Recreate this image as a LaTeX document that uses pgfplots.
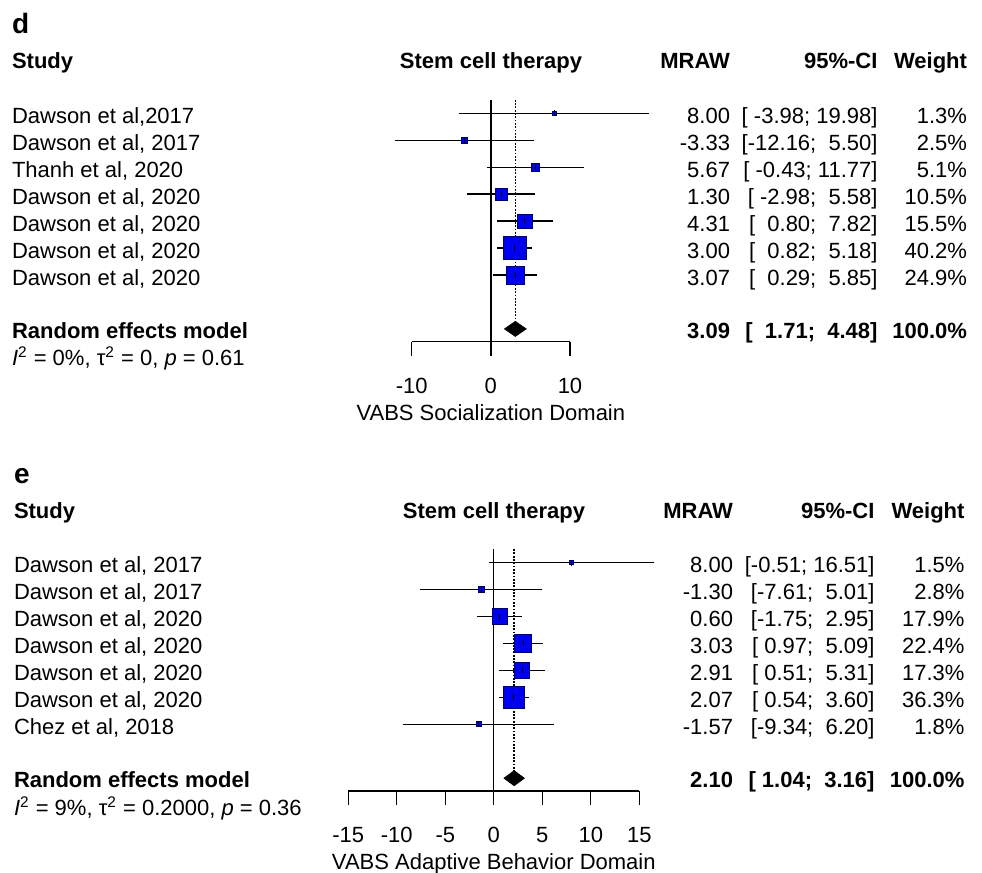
\documentclass[border=0pt]{standalone}
\usepackage{pgfplots}
\usepackage{pgfplotstable}
\pgfplotsset{compat=1.18}
\usepackage{fontspec}
\setmainfont{Liberation Sans}
\definecolor{sqfill}{RGB}{0,0,240}
\definecolor{sqdraw}{RGB}{0,0,110}

\pgfplotstableread{
row est lo hi w
-1 8.00 -3.98 19.98 1.3
-2 -3.33 -12.16 5.50 2.5
-3 5.67 -0.43 11.77 5.1
-4 1.30 -2.98 5.58 10.5
-5 4.31 0.80 7.82 15.5
-6 3.00 0.82 5.18 40.2
-7 3.07 0.29 5.85 24.9
}\tabd
\pgfplotstableread{
row est lo hi w
-1 8.00 -0.51 16.51 1.5
-2 -1.30 -7.61 5.01 2.8
-3 0.60 -1.75 2.95 17.9
-4 3.03 0.97 5.09 22.4
-5 2.91 0.51 5.31 17.3
-6 2.07 0.54 3.60 36.3
-7 -1.57 -9.34 6.20 1.8
}\tabe

\newcommand{\fs}{\fontsize{11pt}{13pt}\selectfont}
\pgfplotsset{forest/.style={
  scale only axis, clip=false, anchor=south west,
  ymin=-9.475, ymax=-0.5, height=120.94pt,
  axis x line*=bottom, axis y line=none,
  x axis line style={-, line width=0.7pt, black},
  tick align=outside, major tick length=7pt,
  xtick pos=bottom, ytick=\empty,
  every tick/.style={black, line width=0.7pt},
  tick label style={font=\fs},
  xticklabel style={anchor=base, yshift=-18.8pt},
  xlabel style={font=\fs, at={(axis description cs:0.5,0)}, anchor=base, yshift=-39.3pt},
}}
\newcommand{\forestdata}[1]{%
  \addplot[only marks, scatter, mark=square*,
    scatter/use mapped color={draw=sqdraw, fill=sqfill},
    visualization depends on={0.907*sqrt(\thisrow{w}) \as \ms},
    scatter/@pre marker code/.append style={/tikz/mark size=\ms, /tikz/line width=0.4pt}]
    table[x=est, y=row] {#1};
  \addplot[draw=none, no markers,
    error bars/.cd, x dir=both, x explicit, error mark=none,
    error bar style={draw=black, solid, line width=0.7pt}]
    table[x=est, y=row, x error plus expr=\thisrow{hi}-\thisrow{est},
      x error minus expr=\thisrow{est}-\thisrow{lo}] {#1};
  \addplot[only marks, mark=|, mark size=1.5pt, mark options={line width=0.5pt, draw=black}]
    table[x=est, y=row] {#1};
}

\begin{document}
\fs
\begin{tikzpicture}
\useasboundingbox (0,0) rectangle (491pt,-436.5pt);

% ---------- panel d ----------
\begin{axis}[forest, at={(205.85pt,-170.85pt)}, width=79.15pt,
  xmin=-10, xmax=10, xtick={-10,0,10}, xticklabels={-10,0,10},
  xlabel={VABS Socialization Domain}]
  \addplot[black, line width=0.7pt] coordinates {(0,-0.5) (0,-9.475)};
  \addplot[black, line width=0.7pt, dash pattern=on 0.9pt off 0.75pt] coordinates {(3.09,-0.5) (3.09,-8.72)};
  \forestdata{\tabd}
  \addplot[fill=black, draw=black, line width=0.3pt] coordinates {(1.71,-9) (3.09,-8.72) (4.48,-9) (3.09,-9.28) (1.71,-9)};
\end{axis}

% ---------- panel e ----------
\begin{axis}[forest, at={(174.15pt,-395.5pt)}, width=145.5pt,
  xmin=-15, xmax=15, xtick={-15,-10,-5,0,5,10,15}, xticklabels={-15,-10,-5,0,5,10,15},
  xlabel={VABS Adaptive Behavior Domain}]
  \addplot[black, line width=0.7pt] coordinates {(0,-0.5) (0,-9.475)};
  \addplot[black, line width=0.7pt, dash pattern=on 0.9pt off 0.75pt] coordinates {(2.10,-0.5) (2.10,-8.72)};
  \forestdata{\tabe}
  \addplot[fill=black, draw=black, line width=0.3pt] coordinates {(1.04,-9) (2.10,-8.72) (3.16,-9) (2.10,-9.28) (1.04,-9)};
\end{axis}

\begin{scope}[x=0.5pt, y=-0.5pt, every node/.style={inner sep=0pt, outer sep=0pt, font=\fs}]
% panel d text
\node[anchor=base west, font=\fontsize{14pt}{16pt}\selectfont\bfseries] at (12,33.3) {d};
\node[anchor=base west, font=\fs\bfseries] at (12,68.5) {Study};
\node[anchor=base, font=\fs\bfseries] at (491,68.5) {Stem cell therapy};
\node[anchor=base east, font=\fs\bfseries] at (730,68.5) {MRAW};
\node[anchor=base east, font=\fs\bfseries] at (877.5,68.5) {95\%-CI};
\node[anchor=base east, font=\fs\bfseries] at (967,68.5) {Weight};

\node[anchor=base west] at (12,123.3) {Dawson et al,2017};
\node[anchor=base west] at (12,150.25) {Dawson et al, 2017};
\node[anchor=base west] at (12,177.2) {Thanh et al, 2020};
\node[anchor=base west] at (12,204.15) {Dawson et al, 2020};
\node[anchor=base west] at (12,231.1) {Dawson et al, 2020};
\node[anchor=base west] at (12,258.05) {Dawson et al, 2020};
\node[anchor=base west] at (12,285.0) {Dawson et al, 2020};

\node[anchor=base east] at (730,123.3) {8.00};
\node[anchor=base east] at (730,150.25) {-3.33};
\node[anchor=base east] at (730,177.2) {5.67};
\node[anchor=base east] at (730,204.15) {1.30};
\node[anchor=base east] at (730,231.1) {4.31};
\node[anchor=base east] at (730,258.05) {3.00};
\node[anchor=base east] at (730,285.0) {3.07};

\node[anchor=base east] at (877.5,123.3) {[~-3.98; 19.98]};
\node[anchor=base east] at (877.5,150.25) {[-12.16;~~5.50]};
\node[anchor=base east] at (877.5,177.2) {[~-0.43; 11.77]};
\node[anchor=base east] at (877.5,204.15) {[~-2.98;~~5.58]};
\node[anchor=base east] at (877.5,231.1) {[~~0.80;~~7.82]};
\node[anchor=base east] at (877.5,258.05) {[~~0.82;~~5.18]};
\node[anchor=base east] at (877.5,285.0) {[~~0.29;~~5.85]};

\node[anchor=base east] at (967,123.3) {1.3\%};
\node[anchor=base east] at (967,150.25) {2.5\%};
\node[anchor=base east] at (967,177.2) {5.1\%};
\node[anchor=base east] at (967,204.15) {10.5\%};
\node[anchor=base east] at (967,231.1) {15.5\%};
\node[anchor=base east] at (967,258.05) {40.2\%};
\node[anchor=base east] at (967,285.0) {24.9\%};

\node[anchor=base west, font=\fs\bfseries] at (12,338.2) {Random effects model};
\node[anchor=base east, font=\fs\bfseries] at (730,338.2) {3.09};
\node[anchor=base east, font=\fs\bfseries] at (877.5,338.2) {[~~1.71;~~4.48]};
\node[anchor=base east, font=\fs\bfseries] at (967,338.2) {100.0\%};
\node[anchor=base west] at (12,365.7) {\textit{I}\textsuperscript{2} = 0\%, τ\textsuperscript{2} = 0, \textit{p} = 0.61};

% panel e text
\node[anchor=base west, font=\fontsize{14pt}{16pt}\selectfont\bfseries] at (14,483.3) {e};
\node[anchor=base west, font=\fs\bfseries] at (14,518.3) {Study};
\node[anchor=base, font=\fs\bfseries] at (494,518.3) {Stem cell therapy};
\node[anchor=base east, font=\fs\bfseries] at (733,518.3) {MRAW};
\node[anchor=base east, font=\fs\bfseries] at (874.5,518.3) {95\%-CI};
\node[anchor=base east, font=\fs\bfseries] at (964.5,518.3) {Weight};

\node[anchor=base west] at (14,572.7) {Dawson et al, 2017};
\node[anchor=base west] at (14,599.65) {Dawson et al, 2017};
\node[anchor=base west] at (14,626.6) {Dawson et al, 2020};
\node[anchor=base west] at (14,653.55) {Dawson et al, 2020};
\node[anchor=base west] at (14,680.5) {Dawson et al, 2020};
\node[anchor=base west] at (14,707.45) {Dawson et al, 2020};
\node[anchor=base west] at (14,734.4) {Chez et al, 2018};

\node[anchor=base east] at (733,572.7) {8.00};
\node[anchor=base east] at (733,599.65) {-1.30};
\node[anchor=base east] at (733,626.6) {0.60};
\node[anchor=base east] at (733,653.55) {3.03};
\node[anchor=base east] at (733,680.5) {2.91};
\node[anchor=base east] at (733,707.45) {2.07};
\node[anchor=base east] at (733,734.4) {-1.57};

\node[anchor=base east] at (874.5,572.7) {[-0.51; 16.51]};
\node[anchor=base east] at (874.5,599.65) {[-7.61;~~5.01]};
\node[anchor=base east] at (874.5,626.6) {[-1.75;~~2.95]};
\node[anchor=base east] at (874.5,653.55) {[~0.97;~~5.09]};
\node[anchor=base east] at (874.5,680.5) {[~0.51;~~5.31]};
\node[anchor=base east] at (874.5,707.45) {[~0.54;~~3.60]};
\node[anchor=base east] at (874.5,734.4) {[-9.34;~~6.20]};

\node[anchor=base east] at (964.5,572.7) {1.5\%};
\node[anchor=base east] at (964.5,599.65) {2.8\%};
\node[anchor=base east] at (964.5,626.6) {17.9\%};
\node[anchor=base east] at (964.5,653.55) {22.4\%};
\node[anchor=base east] at (964.5,680.5) {17.3\%};
\node[anchor=base east] at (964.5,707.45) {36.3\%};
\node[anchor=base east] at (964.5,734.4) {1.8\%};

\node[anchor=base west, font=\fs\bfseries] at (14,787.5) {Random effects model};
\node[anchor=base east, font=\fs\bfseries] at (733,787.5) {2.10};
\node[anchor=base east, font=\fs\bfseries] at (874.5,787.5) {[~1.04;~~3.16]};
\node[anchor=base east, font=\fs\bfseries] at (964.5,787.5) {100.0\%};
\node[anchor=base west] at (14,815.7) {\textit{I}\textsuperscript{2} = 9\%, τ\textsuperscript{2} = 0.2000, \textit{p} = 0.36};
\end{scope}
\end{tikzpicture}
\end{document}
